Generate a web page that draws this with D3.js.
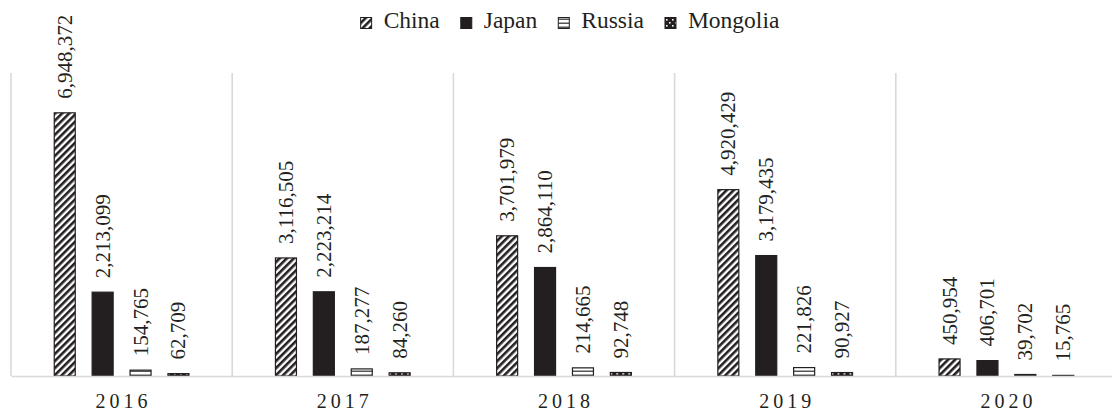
<!DOCTYPE html>
<html>
<head>
<meta charset="utf-8">
<script src="https://cdn.jsdelivr.net/npm/d3@7"></script>
<style>
  html, body { margin: 0; padding: 0; background: #fff; }
  #chart text { font-family: "Liberation Serif", "Times New Roman", serif !important; }
</style>
</head>
<body>
<svg id="chart" width="1112" height="412"></svg>
<script>
// Yearly arrivals by country of origin
const years = ["2016", "2017", "2018", "2019", "2020"];
const seriesNames = ["China", "Japan", "Russia", "Mongolia"];
const china    = [6948372, 3116505, 3701979, 4920429, 450954];
const japan    = [2213099, 2223214, 2864110, 3179435, 406701];
const russia   = [154765, 187277, 214665, 221826, 39702];
const mongolia = [62709, 84260, 92748, 90927, 15765];
const yMax = 8000000;

const seriesValues = [china, japan, russia, mongolia];
const rows = years.map((yr, i) => ({
  year: yr,
  values: seriesNames.map((s, k) => ({ series: s, value: seriesValues[k][i] }))
}));

const FONT = "'Liberation Serif', 'Times New Roman', serif";
const svg = d3.select("#chart");
const root = svg.append("g");
const ink = "#231f20";
const grid = "#d9d9d9";

const plot = { left: 11, right: 1117, top: 73, bottom: 376 };

const x0 = d3.scaleBand().domain(years).range([plot.left, plot.right]).paddingInner(0).paddingOuter(0);
const x1 = d3.scaleBand().domain(seriesNames).range([0, x0.bandwidth()])
  .paddingInner(0.446).paddingOuter(1.141);
const y = d3.scaleLinear().domain([0, yMax]).range([plot.bottom, plot.top]);

// ---- fill patterns ----
const defs = svg.append("defs");

const pChina = defs.append("pattern").attr("id", "pat-china")
  .attr("patternUnits", "userSpaceOnUse").attr("width", 5).attr("height", 5)
  .attr("patternTransform", "rotate(45)");
pChina.append("rect").attr("width", 5).attr("height", 5).attr("fill", "#fff");
pChina.append("rect").attr("width", 2.6).attr("height", 5).attr("fill", ink);

defs.append("pattern").attr("id", "pat-japan")
  .attr("patternUnits", "userSpaceOnUse").attr("width", 4).attr("height", 4)
  .append("rect").attr("width", 4).attr("height", 4).attr("fill", ink);

const pRussia = defs.append("pattern").attr("id", "pat-russia")
  .attr("patternUnits", "userSpaceOnUse").attr("width", 4).attr("height", 4);
pRussia.append("rect").attr("width", 4).attr("height", 4).attr("fill", "#fff");
pRussia.append("rect").attr("y", 2.5).attr("width", 4).attr("height", 1.5).attr("fill", "#555");

const pMongolia = defs.append("pattern").attr("id", "pat-mongolia")
  .attr("patternUnits", "userSpaceOnUse").attr("width", 6).attr("height", 6);
pMongolia.append("rect").attr("width", 6).attr("height", 6).attr("fill", ink);
pMongolia.append("rect").attr("x", 1).attr("y", 1).attr("width", 1.6).attr("height", 1.6).attr("fill", "#fff");
pMongolia.append("rect").attr("x", 4).attr("y", 4).attr("width", 1.6).attr("height", 1.6).attr("fill", "#fff");

const fillOf = {
  China: "url(#pat-china)",
  Japan: "url(#pat-japan)",
  Russia: "url(#pat-russia)",
  Mongolia: "url(#pat-mongolia)"
};

// ---- frame: left edge and category separators ----
const gridG = root.append("g");
gridG.append("line")
  .attr("x1", plot.left).attr("x2", plot.left)
  .attr("y1", plot.top).attr("y2", plot.bottom)
  .attr("stroke", grid).attr("stroke-width", 1.6);
gridG.selectAll("line.sep").data(years.slice(1)).join("line").attr("class", "sep")
  .attr("x1", d => x0(d)).attr("x2", d => x0(d))
  .attr("y1", plot.top).attr("y2", plot.bottom)
  .attr("stroke", grid).attr("stroke-width", 1.6);

// ---- bars ----
const groups = root.append("g").selectAll("g.year").data(rows).join("g")
  .attr("class", "year")
  .attr("transform", d => `translate(${x0(d.year)},0)`);

groups.selectAll("rect").data(d => d.values).join("rect")
  .attr("x", d => x1(d.series))
  .attr("width", x1.bandwidth())
  .attr("y", d => y(d.value))
  .attr("height", d => y(0) - y(d.value))
  .attr("fill", d => fillOf[d.series])
  .attr("stroke", ink).attr("stroke-width", 1.2);

// ---- value labels (rotated) ----
groups.selectAll("text.val").data(d => d.values).join("text")
  .attr("class", "val")
  .attr("transform", d => `translate(${x1(d.series) + x1.bandwidth() / 2},${y(d.value) - 14}) rotate(-90)`)
  .attr("dominant-baseline", "central")
  .attr("text-anchor", "start")
  .style("font-family", FONT)
  .style("font-size", "21px")
  .attr("fill", ink)
  .text(d => d3.format(",")(d.value));

// ---- category axis ----
const xAxis = root.append("g")
  .attr("transform", `translate(0,${plot.bottom})`)
  .call(d3.axisBottom(x0).tickSize(0).tickPadding(18));
xAxis.select(".domain").attr("stroke", grid).attr("stroke-width", 1.6);
xAxis.selectAll(".tick text")
  .style("font-family", FONT)
  .style("font-size", "20px")
  .attr("fill", ink)
  .attr("letter-spacing", 4)
  .attr("dx", 2);

// ---- legend ----
const legend = root.append("g");
const legendY = 28;
const items = legend.selectAll("g.item").data(seriesNames).join("g").attr("class", "item");
items.append("rect")
  .attr("x", 0).attr("y", legendY - 10.5)
  .attr("width", 11).attr("height", 11)
  .attr("fill", d => fillOf[d])
  .attr("stroke", ink).attr("stroke-width", 1);
items.append("text")
  .attr("x", 23).attr("y", legendY)
  .style("font-family", FONT)
  .style("font-size", "23.5px")
  .attr("fill", ink)
  .text(d => d);

const widths = [];
items.each(function () {
  widths.push(23 + d3.select(this).select("text").node().getComputedTextLength());
});
const gap = 21;
const total = d3.sum(widths) + gap * (widths.length - 1);
const legendCenter = 570;
let cursor = legendCenter - total / 2;
items.attr("transform", (d, i) => {
  const t = `translate(${cursor},0)`;
  cursor += widths[i] + gap;
  return t;
});
</script>
</body>
</html>
